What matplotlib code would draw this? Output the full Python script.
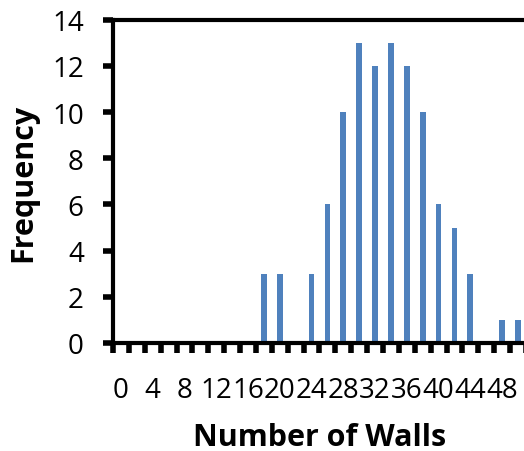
import matplotlib.pyplot as plt
import numpy as np

# Histogram of wall counts (Excel-style category axis)
walls = list(range(0, 52, 2))
frequency = [0, 0, 0, 0, 0, 0, 0, 0, 0, 3, 3, 0, 3, 6, 10, 13, 12, 13, 12, 10, 6, 5, 3, 0, 1, 1]
tick_labels = [str(w) for w in walls[::2]]

bar_color = "#4F81BD"
font_family = ["Open Sans", "DejaVu Sans"]

fig = plt.figure(figsize=(5.24, 4.52), dpi=100)
ax = fig.add_axes([0.2157, 0.239, 0.788, 0.715])

pos = np.arange(len(walls))
ax.bar(pos, frequency, width=0.36, color=bar_color, zorder=2)

ax.set_xlim(-0.5, len(walls) - 0.5)
ax.set_ylim(0, 14)
ax.set_yticks(range(0, 15, 2))

# labels at every other category, tick marks at category boundaries
ax.set_xticks(pos[::2])
ax.set_xticklabels(tick_labels)
ax.set_xticks(np.arange(len(walls) + 1) - 0.5, minor=True)
ax.tick_params(axis="x", which="major", length=0, pad=24)
ax.tick_params(axis="x", which="minor", length=7, width=4, direction="out", color="black")
ax.tick_params(axis="y", which="major", length=7, width=4, direction="out", pad=14)

for lbl in ax.get_xticklabels() + ax.get_yticklabels():
    lbl.set_family(font_family)
    lbl.set_fontsize(20)

for side in ["left", "bottom", "top", "right"]:
    ax.spines[side].set_linewidth(3)
    ax.spines[side].set_color("black")

ax.set_xlabel("Number of Walls", fontsize=22, fontweight="bold", family=font_family, labelpad=13)
ax.set_ylabel("Frequency", fontsize=22, fontweight="bold", family=font_family, labelpad=10)

plt.savefig("out.png", dpi=100)
